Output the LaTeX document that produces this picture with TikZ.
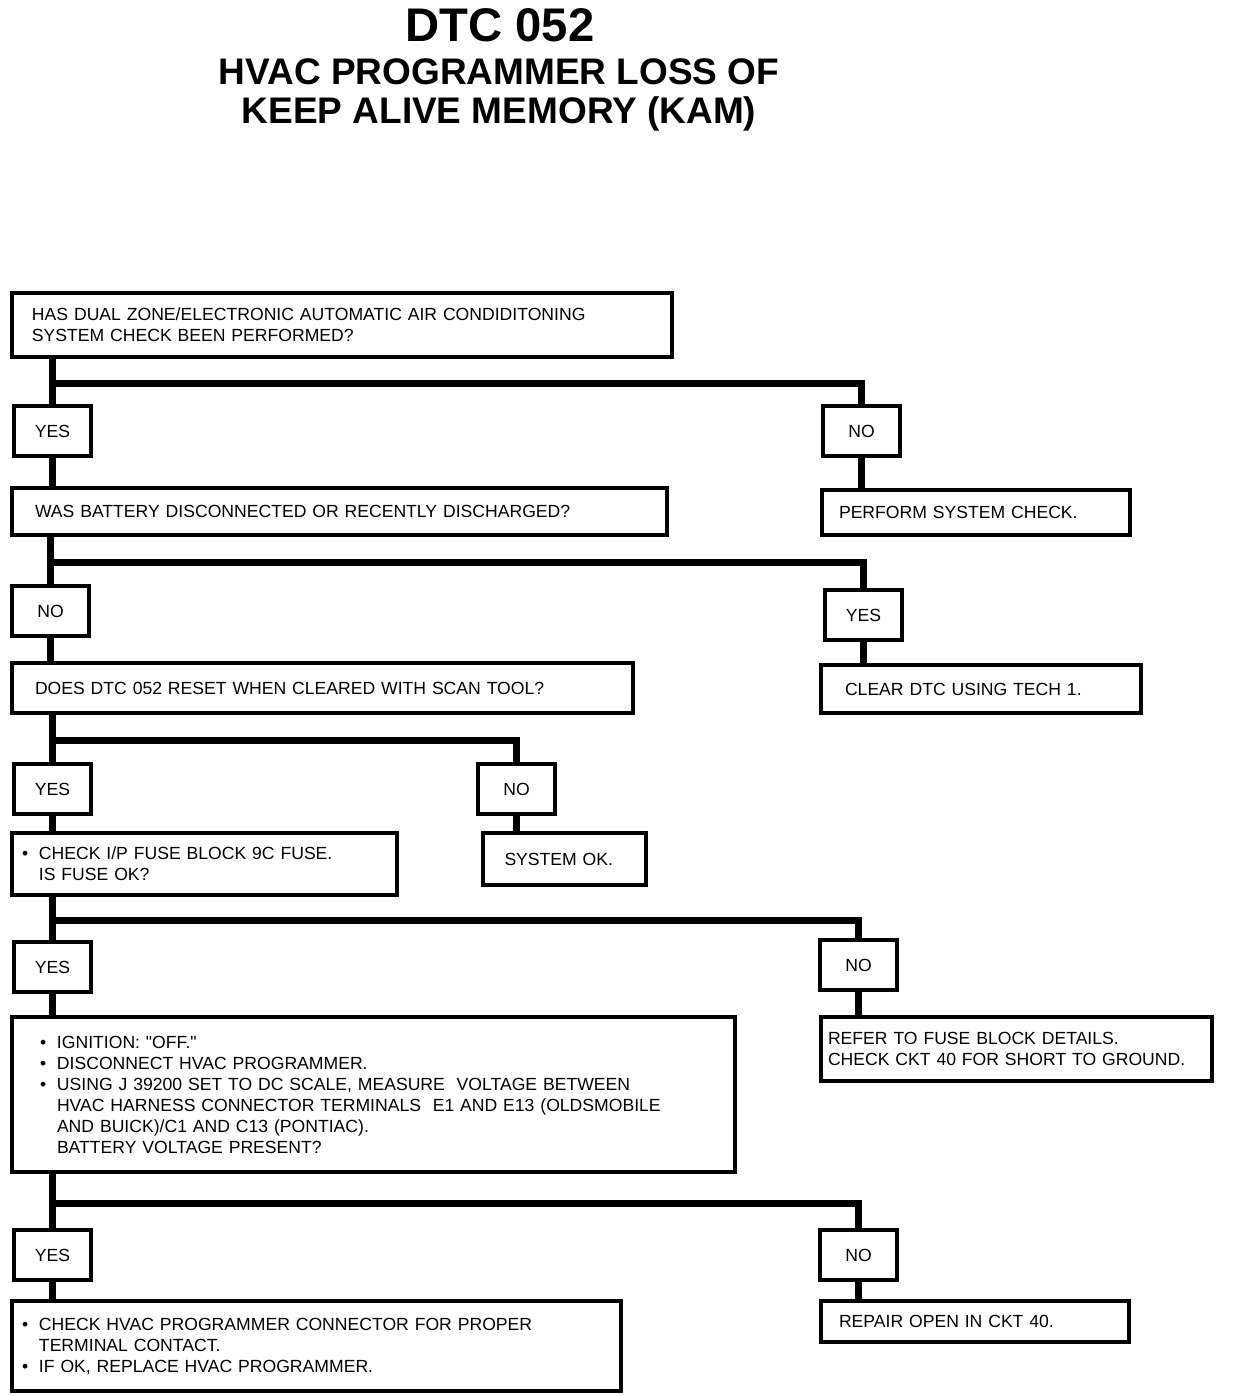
\documentclass[tikz,border=0pt]{standalone}
\usepackage{fontspec}
\setmainfont{Liberation Sans}
\usetikzlibrary{calc}
\newcommand{\bul}{\makebox[8.5pt][l]{\textbullet}}
\newcommand{\ind}{\hspace*{8.5pt}}
\tikzset{
    qbox/.style={draw, line width=2pt, anchor=north west, align=left, inner ysep=1pt,
        font=\fontsize{8.8}{10.5}\selectfont},
    ans/.style={draw, line width=2pt, anchor=north west, minimum width=38.5pt,
        minimum height=25pt, inner sep=0pt, font=\fontsize{8.8}{10.5}\selectfont},
    link/.style={line width=3.5pt},
    title/.style={anchor=base, font=\bfseries\fontsize{18.5}{20}\selectfont}
}
\begin{document}
\begin{tikzpicture}[x=0.5pt, y=-0.5pt]
    \useasboundingbox (0,0) rectangle (1248,1396);
    \node[title, font=\bfseries\fontsize{23.6}{26}\selectfont] (dtc) at (500,42) {DTC 052};
    \node[title] (t1) at (499,85) {HVAC PROGRAMMER LOSS OF};
    \node[title] (t2) at (499,124) {KEEP ALIVE MEMORY (KAM)};

    \node[qbox, minimum height=32pt, inner xsep=10pt, text width=310pt] (q1) at (10,291)
        {HAS DUAL ZONE/ELECTRONIC AUTOMATIC AIR CONDIDITONING\\SYSTEM CHECK BEEN PERFORMED?};
    \node[ans] (a1) at (12,404) {YES};
    \node[ans] (a1n) at (821,404) {NO};
    \node[qbox, minimum height=23.5pt, inner xsep=11.5pt, text width=304.5pt] (q2) at (10,486)
        {WAS BATTERY DISCONNECTED OR RECENTLY DISCHARGED?};
    \node[qbox, minimum height=22.5pt, inner xsep=8.5pt, text width=137pt] (r1) at (820,488)
        {PERFORM SYSTEM CHECK.};
    \node[ans] (a2) at (10,584) {NO};
    \node[ans] (a2y) at (823,588) {YES};
    \node[qbox, minimum height=25pt, inner xsep=11.5pt, text width=287.5pt] (q3) at (10,661)
        {DOES DTC 052 RESET WHEN CLEARED WITH SCAN TOOL?};
    \node[qbox, minimum height=24pt, inner xsep=12pt, text width=136pt] (r2) at (819,663)
        {CLEAR DTC USING TECH 1.};
    \node[ans] (a3) at (12,762) {YES};
    \node[ans] (a3n) at (476,762) {NO};
    \node[qbox, minimum height=31pt, inner xsep=5pt, text width=182.5pt] (q4) at (10,831)
        {\bul CHECK I/P FUSE BLOCK 9C FUSE.\\\ind IS FUSE OK?};
    \node[qbox, minimum height=26pt, inner xsep=10.75pt, text width=60pt] (r3) at (481,831)
        {SYSTEM OK.};
    \node[ans] (a4) at (12,940) {YES};
    \node[ans] (a4n) at (818,938) {NO};
    \node[qbox, minimum height=77.5pt, inner xsep=14pt, text width=333.5pt] (q5) at (10,1015)
        {\bul IGNITION: \textquotedbl OFF.\textquotedbl\\
         \bul DISCONNECT HVAC PROGRAMMER.\\
         \bul USING J 39200 SET TO DC SCALE, MEASURE \ VOLTAGE BETWEEN\\
         \ind HVAC HARNESS CONNECTOR TERMINALS \ E1 AND E13 (OLDSMOBILE\\
         \ind AND BUICK)/C1 AND C13 (PONTIAC).\\
         \ind BATTERY VOLTAGE PRESENT?};
    \node[qbox, minimum height=32pt, inner xsep=3.5pt, text width=188.5pt] (r4) at (819,1015)
        {REFER TO FUSE BLOCK DETAILS.\\CHECK CKT 40 FOR SHORT TO GROUND.};
    \node[ans] (a5) at (12,1228) {YES};
    \node[ans] (a5n) at (818,1228) {NO};
    \node[qbox, minimum height=45pt, inner xsep=5pt, text width=294.5pt] (q6) at (10,1299)
        {\bul CHECK HVAC PROGRAMMER CONNECTOR FOR PROPER\\
         \ind TERMINAL CONTACT.\\
         \bul IF OK, REPLACE HVAC PROGRAMMER.};
    \node[qbox, minimum height=20.5pt, inner xsep=9pt, text width=136pt] (r5) at (819,1299)
        {REPAIR OPEN IN CKT 40.};

    \coordinate (j1) at ($(q1.south -| a1.north)!.55!(a1.north)$);
    \coordinate (j2) at ($(q2.south -| a2.north)!.55!(a2.north)$);
    \coordinate (j3) at ($(q3.south -| a3.north)!.55!(a3.north)$);
    \coordinate (j4) at ($(q4.south -| a4.north)!.55!(a4.north)$);
    \coordinate (j5) at ($(q5.south -| a5.north)!.55!(a5.north)$);

    \draw[link] (q1.south -| a1.north) -- (a1.north);
    \draw[link] (j1) -| (a1n.north);
    \draw[link] (a1.south) -- (q2.north -| a1.south);
    \draw[link] (a1n.south) -- (r1.north -| a1n.south);

    \draw[link] (q2.south -| a2.north) -- (a2.north);
    \draw[link] (j2) -| (a2y.north);
    \draw[link] (a2.south) -- (q3.north -| a2.south);
    \draw[link] (a2y.south) -- (r2.north -| a2y.south);

    \draw[link] (q3.south -| a3.north) -- (a3.north);
    \draw[link] (j3) -| (a3n.north);
    \draw[link] (a3.south) -- (q4.north -| a3.south);
    \draw[link] (a3n.south) -- (r3.north -| a3n.south);

    \draw[link] (q4.south -| a4.north) -- (a4.north);
    \draw[link] (j4) -| (a4n.north);
    \draw[link] (a4.south) -- (q5.north -| a4.south);
    \draw[link] (a4n.south) -- (r4.north -| a4n.south);

    \draw[link] (q5.south -| a5.north) -- (a5.north);
    \draw[link] (j5) -| (a5n.north);
    \draw[link] (a5.south) -- (q6.north -| a5.south);
    \draw[link] (a5n.south) -- (r5.north -| a5n.south);
\end{tikzpicture}
\end{document}
